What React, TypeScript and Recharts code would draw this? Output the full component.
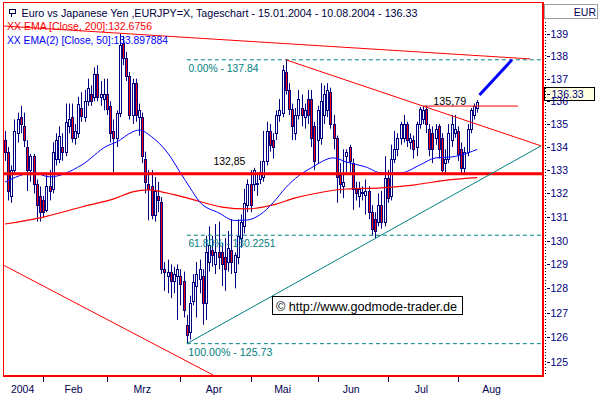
import React from 'react';
import { ComposedChart, Bar, Line, XAxis, YAxis, ReferenceLine, ReferenceDot } from 'recharts';

const FONT = '"Liberation Sans", Arial, sans-serif';

// Daily candles EUR/JPY 15.01.2004 - 10.08.2004 (index = trading day)
const opens = [
  134.3, 133.8, 131.9, 133.0, 134.6, 135.3, 134.9, 134.0, 133.0, 133.6,
  132.4, 131.9, 131.7, 131.3, 132.3, 132.2, 133.5, 133.5, 134.0, 133.8,
  134.9, 135.3, 134.4, 134.6, 135.7, 135.3, 136.0, 136.3, 136.2, 137.2,
  136.2, 136.1, 136.3, 135.8, 134.7, 134.4, 135.5, 138.6, 137.9, 137.1,
  135.4, 136.8, 135.3, 135.3, 133.5, 132.4, 132.3, 131.1, 131.9, 131.65,
  128.8, 128.5, 128.7, 128.3, 128.5, 128.5, 128.3, 126.5, 126.2, 127.5,
  128.1, 128.4, 128.5, 127.4, 129.1, 129.6, 129.0, 129.5, 129.5, 129.3,
  129.1, 129.6, 128.7, 129.3, 130.1, 130.6, 131.5, 132.4, 132.4, 132.4,
  132.6, 132.7, 133.4, 134.7, 134.3, 134.6, 135.4, 135.5, 137.3, 136.5,
  135.65, 134.6, 135.4, 135.7, 135.3, 136.1, 136.1, 134.9, 134.3, 134.4,
  135.4, 135.6, 136.4, 135.0, 134.4, 132.8, 132.3, 133.6, 134.0, 133.3,
  132.2, 131.9, 132.0, 131.95, 132.1, 131.2, 130.9, 130.8, 131.5, 130.8,
  132.65, 131.9, 133.5, 133.9, 134.4, 134.4, 135.0, 134.2, 134.3, 134.0,
  135.0, 135.2, 135.65, 134.8, 134.6, 134.4, 134.9, 134.4, 133.3, 133.5,
  134.3, 134.6, 134.7, 133.9, 133.1, 133.8, 134.8, 135.4, 135.7,
];
const highs = [
  134.7, 134.0, 133.2, 135.2, 135.5, 135.8, 135.5, 134.3, 133.7, 133.7,
  132.6, 132.3, 131.9, 132.9, 133.0, 134.2, 134.6, 134.9, 134.6, 135.9,
  135.9, 135.9, 135.0, 136.2, 136.4, 136.5, 137.0, 136.7, 137.5, 137.6,
  136.9, 137.0, 137.0, 136.0, 135.2, 135.6, 139.0, 138.9, 138.2, 137.3,
  137.0, 137.0, 135.9, 135.5, 133.8, 133.0, 133.0, 132.7, 132.5, 131.85,
  129.1, 129.2, 129.0, 128.9, 129.0, 128.8, 128.7, 126.9, 127.7, 128.6,
  129.1, 129.2, 128.8, 130.2, 130.6, 130.2, 130.7, 130.8, 129.9, 130.1,
  130.4, 130.9, 129.5, 130.9, 131.1, 132.2, 132.6, 133.0, 133.1, 132.9,
  133.4, 134.7, 135.1, 135.0, 134.6, 135.6, 136.1, 137.6, 137.84, 136.8,
  135.9, 135.7, 136.5, 136.3, 135.9, 136.5, 136.5, 135.1, 135.8, 136.8,
  136.7, 136.8, 136.6, 135.4, 134.5, 133.3, 133.9, 133.9, 134.1, 133.5,
  132.5, 132.5, 132.3, 132.6, 132.3, 131.5, 131.2, 132.0, 132.1, 133.6,
  133.0, 134.1, 134.7, 134.6, 135.1, 135.4, 135.1, 134.6, 134.5, 135.1,
  135.75, 135.8, 135.79, 135.0, 134.9, 135.0, 135.0, 134.6, 133.9, 135.0,
  135.4, 135.4, 134.9, 134.2, 134.0, 135.0, 135.7, 135.9, 136.05,
];
const lows = [
  133.4, 131.7, 131.6, 132.8, 134.2, 134.6, 134.0, 132.1, 132.5, 132.0,
  130.8, 130.8, 131.0, 131.2, 131.7, 132.0, 133.2, 133.3, 133.4, 133.6,
  134.6, 134.2, 134.1, 134.4, 135.1, 135.1, 135.8, 135.8, 136.0, 136.0,
  135.8, 135.6, 135.4, 134.2, 132.9, 134.0, 135.3, 137.6, 136.9, 135.2,
  135.0, 135.1, 134.5, 133.3, 132.0, 130.85, 130.9, 130.8, 131.2, 128.6,
  127.9, 127.8, 127.6, 127.8, 126.7, 127.3, 126.8, 125.73, 125.9, 127.3,
  126.8, 127.8, 126.5, 126.7, 128.7, 128.9, 128.6, 128.8, 128.1, 127.9,
  128.7, 128.6, 128.0, 129.0, 129.7, 130.3, 131.2, 131.2, 132.1, 131.9,
  132.4, 132.5, 133.2, 133.8, 133.5, 134.3, 135.1, 135.3, 136.3, 135.4,
  134.3, 134.3, 135.2, 134.9, 134.8, 135.0, 134.0, 133.0, 133.3, 134.1,
  135.0, 135.3, 134.8, 133.9, 131.6, 132.0, 131.8, 132.9, 132.9, 131.3,
  131.7, 131.4, 131.7, 131.1, 130.9, 130.2, 130.1, 130.6, 130.5, 130.6,
  131.6, 131.7, 133.3, 133.6, 134.1, 134.2, 134.0, 133.9, 133.5, 133.6,
  134.8, 135.0, 134.6, 133.6, 133.3, 134.1, 133.5, 132.8, 132.9, 133.3,
  134.0, 134.4, 133.4, 132.8, 132.8, 133.6, 134.6, 135.2, 135.5,
];
const closes = [
  133.8, 132.1, 133.0, 134.7, 135.2, 135.0, 134.3, 133.0, 133.6, 132.4,
  131.5, 131.2, 131.2, 132.3, 132.1, 133.8, 134.3, 134.5, 133.8, 135.1,
  135.2, 134.4, 134.7, 135.9, 135.35, 136.0, 136.6, 136.0, 137.2, 136.2,
  136.3, 136.3, 135.65, 134.6, 134.4, 135.5, 138.5, 137.9, 137.1, 135.4,
  136.8, 135.4, 135.6, 133.6, 132.5, 132.2, 131.1, 132.1, 131.7, 128.8,
  128.7, 128.7, 128.3, 128.6, 128.8, 128.2, 127.1, 126.1, 127.4, 128.25,
  128.6, 128.8, 127.4, 129.5, 129.8, 129.4, 129.5, 129.3, 129.0, 128.8,
  129.7, 129.1, 129.4, 130.2, 130.8, 131.6, 132.4, 131.5, 133.0, 132.45,
  132.9, 133.4, 134.7, 134.1, 134.0, 135.4, 135.6, 137.4, 136.5, 135.65,
  134.9, 135.4, 136.1, 135.4, 135.6, 135.4, 134.4, 133.4, 135.6, 136.0,
  136.3, 136.5, 135.0, 134.4, 132.7, 132.4, 132.5, 133.8, 133.4, 132.2,
  132.0, 132.2, 132.05, 132.1, 131.2, 130.5, 130.4, 131.5, 130.8, 132.65,
  131.8, 133.5, 133.9, 134.4, 135.0, 135.0, 134.3, 134.4, 133.9, 135.0,
  135.65, 135.6, 135.0, 133.9, 133.9, 134.8, 133.9, 133.0, 133.5, 134.6,
  135.0, 134.8, 133.7, 133.1, 133.8, 134.8, 135.6, 135.8, 135.95,
];

// EMA readings (index, value)
const ema200Idx = [0, 11, 24, 35, 40, 45, 49, 57, 68, 76, 84, 91, 98, 107, 118, 128, 139, 148];
const ema200Val = [130.70, 130.96, 131.42, 131.81, 132.07, 132.15, 132.07, 131.81, 131.42, 131.34, 131.51, 131.81, 132.02, 132.19, 132.24, 132.36, 132.58, 132.68];
const ema50Idx = [0, 9, 14, 24, 32, 35, 40, 42, 46, 51, 55, 58, 61, 67, 72, 76, 80, 84, 88, 92, 96, 103, 107, 113, 118, 124, 130, 135, 140, 145, 148];
const ema50Val = [132.49, 132.88, 132.71, 133.22, 134.05, 134.22, 134.66, 134.74, 134.44, 133.74, 132.88, 132.24, 131.64, 131.17, 130.85, 130.87, 131.10, 131.60, 132.25, 132.75, 133.10, 133.53, 133.35, 133.14, 132.88, 132.88, 133.22, 133.53, 133.57, 133.74, 133.90];

// Axes
const xDomain = [-0.63, 168.3];
const yDomain = [124.46, 140.4];
const priceTicks = [125, 126, 127, 128, 129, 130, 131, 132, 133, 134, 135, 136, 137, 138, 139];
const monthStarts = [0, 12, 32, 55, 77, 98, 120, 142, 164];
const monthNames = ['2004', 'Feb', 'Mrz', 'Apr', 'Mai', 'Jun', 'Jul', 'Aug'];
const monthBoundaryTicks = monthStarts.slice(1, 8);
const monthLabelTicks = monthNames.map((_, k) => (monthStarts[k] + monthStarts[k + 1]) / 2 - 0.5);

// Drawn analysis lines (index, price)
const longResistance = [[-0.63, 139.36], [164.6, 137.88]];
const triangleTop = [[88, 137.84], [168.0, 134.05]];
const triangleBottom = [[57, 125.73], [168.0, 134.05]];
const lowerChannel = [[-0.63, 128.98], [65.2, 124.46]];
const level13579 = [[131.3, 135.79], [160.8, 135.79]];
const targetArrow = [[148.7, 136.28], [158.9, 137.84]];
const supportLevel = 132.85;
const fibStartIdx = 57;
const fibLevels = [137.84, 130.2251, 125.73];
const fibTexts = ['0.00% - 137.84', '61.80% - 130.2251', '100.00% - 125.73'];
const fibTextWidths = [70, 87, 84];
const lastPrice = 136.33;

const e200 = new Map(ema200Idx.map((k, j) => [k, ema200Val[j]]));
const e50 = new Map(ema50Idx.map((k, j) => [k, ema50Val[j]]));
const data = opens.map((o, i) => ({
  i,
  open: o,
  high: highs[i],
  low: lows[i],
  close: closes[i],
  range: [lows[i], highs[i]],
  ema200: e200.has(i) ? e200.get(i) : null,
  ema50: e50.has(i) ? e50.get(i) : null,
}));

const Candle = (props: any) => {
  let { x, y, width, height, payload } = props;
  if (!payload || x == null || y == null) return null;
  if (height < 0) { y = y + height; height = -height; }
  const cx = Math.round(x + width / 2);
  const lh = Math.log(payload.high);
  const ll = Math.log(payload.low);
  const span = lh - ll || 1;
  const py = (v: number) => y + ((lh - Math.log(v)) / span) * height;
  const yo = py(payload.open);
  const yc = py(payload.close);
  const top = Math.round(Math.min(yo, yc));
  const bot = Math.round(Math.max(yo, yc));
  const up = payload.close >= payload.open;
  return (
    <g>
      <line x1={cx + 0.5} x2={cx + 0.5} y1={y} y2={y + height} stroke="#000080" strokeWidth={1} />
      <rect x={cx - 0.5} y={top + 0.5} width={2} height={Math.max(bot - top, 1)} fill={up ? '#ffffff' : '#ff0000'} stroke="#000080" strokeWidth={1} />
    </g>
  );
};

const PriceTick = (props: any) => {
  const { x, y, payload } = props;
  return (
    <g>
      <line x1={x + 5} x2={x + 8} y1={Math.round(y) + 0.5} y2={Math.round(y) + 0.5} stroke="#000080" />
      <text x={x + 8.5} y={y + 4} fontSize={10.5} fill="#000080" fontFamily={FONT}>{payload.value}</text>
    </g>
  );
};

const MonthTick = (props: any) => {
  const { x, y, payload } = props;
  const v = payload.value;
  if (monthBoundaryTicks.includes(v)) {
    return <line x1={Math.round(x) + 0.5} x2={Math.round(x) + 0.5} y1={y + 1} y2={y + 7} stroke="#000050" />;
  }
  const k = monthLabelTicks.indexOf(v);
  return (
    <text x={x} y={y + 18} textAnchor="middle" fontSize={10.5} fill="#000050" fontFamily={FONT}>{monthNames[k]}</text>
  );
};

const seg = (s: number[][]) => [{ x: s[0][0], y: s[0][1] }, { x: s[1][0], y: s[1][1] }];

export default function App() {
  return (
    <div style={{ position: 'absolute', left: 0, top: 0, width: 603, height: 397, background: '#ffffff', overflow: 'hidden' }}>
      <ComposedChart width={603} height={397} data={data} margin={{ top: 3, right: 3, bottom: 4, left: 3 }}>
        <XAxis dataKey="i" type="number" domain={xDomain} allowDataOverflow ticks={[...monthBoundaryTicks, ...monthLabelTicks]} interval={0} height={18} axisLine={false} tickLine={false} tickSize={0} tickMargin={0} tick={<MonthTick />} />
        <YAxis orientation="right" type="number" scale="log" domain={yDomain} allowDataOverflow ticks={priceTicks} interval={0} width={58} axisLine={false} tickLine={false} tickSize={0} tickMargin={0} tick={<PriceTick />} />
        <ReferenceLine segment={seg(lowerChannel)} stroke="#ff0000" strokeWidth={1} ifOverflow="hidden" />
        <Line type="monotone" dataKey="ema200" stroke="#ff0000" strokeWidth={1.2} dot={false} connectNulls isAnimationActive={false} />
        <Line type="monotone" dataKey="ema50" stroke="#0000ff" strokeWidth={1} dot={false} connectNulls isAnimationActive={false} />
        <Bar dataKey="range" barSize={3} shape={(p: any) => <Candle {...p} />} isAnimationActive={false} />
        <ReferenceLine y={supportLevel} stroke="#ff0000" strokeWidth={3} ifOverflow="hidden" />
        {fibLevels.map((lv, k) => (
          <ReferenceLine key={'fib' + k} segment={[{ x: fibStartIdx, y: lv }, { x: xDomain[1], y: lv }]} stroke="#008080" strokeWidth={1} strokeDasharray="4 3" ifOverflow="hidden" />
        ))}
        <ReferenceLine segment={seg(longResistance)} stroke="#ff0000" strokeWidth={1} ifOverflow="hidden" />
        <ReferenceLine segment={seg(triangleTop)} stroke="#ff0000" strokeWidth={1} ifOverflow="hidden" />
        <ReferenceLine segment={seg(triangleBottom)} stroke="#008080" strokeWidth={1} ifOverflow="hidden" />
        <ReferenceLine segment={seg(level13579)} stroke="#ff0000" strokeWidth={1} ifOverflow="hidden" />
        <ReferenceLine segment={seg(targetArrow)} stroke="#0000ff" strokeWidth={3} ifOverflow="hidden" />
        {fibLevels.map((lv, k) => (
          <ReferenceDot key={'fibt' + k} x={fibStartIdx} y={lv} r={1} ifOverflow="visible"
            shape={(p: any) => (
              <text x={p.cx + 1.5} y={p.cy + 12} fontSize={10.5} fill="#008080" fontFamily={FONT} textLength={fibTextWidths[k]} lengthAdjust="spacingAndGlyphs">{fibTexts[k]}</text>
            )} />
        ))}
        <ReferenceDot x={65} y={supportLevel} r={1} ifOverflow="visible"
          shape={(p: any) => (
            <text x={p.cx + 1} y={p.cy - 9} fontSize={11} fill="#000000" fontFamily={FONT} textLength={32} lengthAdjust="spacingAndGlyphs">132,85</text>
          )} />
        <ReferenceDot x={134.2} y={135.79} r={1} ifOverflow="visible"
          shape={(p: any) => (
            <text x={p.cx} y={p.cy - 1.5} fontSize={11} fill="#000000" fontFamily={FONT} textLength={33} lengthAdjust="spacingAndGlyphs">135,79</text>
          )} />
        <ReferenceDot x={xDomain[1]} y={lastPrice} r={1} ifOverflow="visible"
          shape={(p: any) => (
            <g>
              <rect x={p.cx + 2.5} y={Math.round(p.cy) - 6.5} width={50} height={13} fill="#ffffe1" stroke="#000000" strokeWidth={1} />
              <line x1={p.cx + 5} x2={p.cx + 8} y1={Math.round(p.cy) + 0.5} y2={Math.round(p.cy) + 0.5} stroke="#000080" />
              <text x={p.cx + 9.5} y={p.cy + 4} fontSize={10.5} fill="#000080" fontFamily={FONT}>{lastPrice.toFixed(2)}</text>
            </g>
          )} />
      </ComposedChart>
      <svg width={603} height={397} style={{ position: 'absolute', left: 0, top: 0, pointerEvents: 'none' }}>
        {/* frame */}
        <line x1={3.5} x2={3.5} y1={2} y2={377} stroke="#ff0000" strokeWidth={1} />
        <line x1={3} x2={544} y1={2.5} y2={2.5} stroke="#ff0000" strokeWidth={1} />
        <line x1={543} x2={543} y1={2} y2={377} stroke="#ff0000" strokeWidth={2} />
        <line x1={3} x2={544} y1={376} y2={376} stroke="#ff0000" strokeWidth={2} />
        {/* right axis dotted line */}
        <line x1={545.5} x2={545.5} y1={22} y2={375} stroke="#000000" strokeWidth={1} strokeDasharray="1 2" />
        {/* currency box */}
        <rect x={544.5} y={4.5} width={53} height={14} fill="#ffffff" stroke="#a0a0a0" strokeWidth={1} />
        <text x={596} y={16} textAnchor="end" fontSize={10.5} fill="#000050" fontFamily={FONT}>EUR</text>
        {/* title */}
        <rect x={9.5} y={9.5} width={6} height={4} fill="none" stroke="#000040" strokeWidth={1} />
        <line x1={11.5} x2={11.5} y1={14} y2={17} stroke="#000040" strokeWidth={1} />
        <text x={21.5} y={16.5} fontSize={10.5} fill="#000040" fontFamily={FONT} textLength={396} lengthAdjust="spacingAndGlyphs">Euro vs Japanese Yen ,EURJPY=X, Tageschart - 15.01.2004 - 10.08.2004 - 136.33</text>
        <text x={7} y={29.5} fontSize={10.5} fill="#ff0000" fontFamily={FONT} textLength={145} lengthAdjust="spacingAndGlyphs">XX EMA [Close, 200]:132.6756</text>
        <text x={7} y={43.5} fontSize={10.5} fill="#0000ff" fontFamily={FONT} textLength={161} lengthAdjust="spacingAndGlyphs">XX EMA(2) [Close, 50]:133.897884</text>
        {/* copyright */}
        <rect x={272.5} y={296.5} width={190} height={18} fill="#ffffff" stroke="#000000" strokeWidth={1} />
        <text x={276} y={310.5} fontSize={12.5} fill="#000000" fontFamily={FONT} textLength={181} lengthAdjust="spacingAndGlyphs">© http://www.godmode-trader.de</text>
      </svg>
    </div>
  );
}
